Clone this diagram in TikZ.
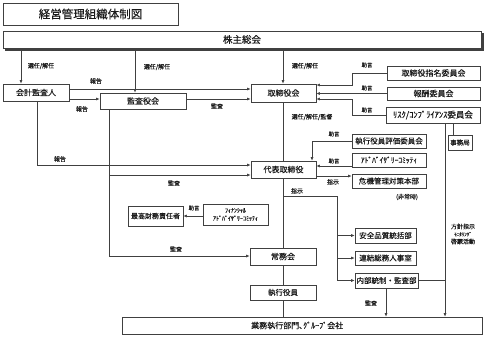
\documentclass[tikz,border=0pt]{standalone}
\usepackage{fontspec}
\setmainfont{Noto Sans CJK JP}[FakeBold=0.2]
\usetikzlibrary{arrows.meta}
\definecolor{linec}{HTML}{404040}
\definecolor{txtc}{HTML}{1A1A1A}
\newcommand{\myfs}[1]{\fontsize{#1}{#1}\selectfont}
\begin{document}
\begin{tikzpicture}[x=1pt,y=-1pt,
 bx/.style={draw=linec, line width=0.7pt, inner sep=0pt, text=txtc, font=\myfs{8}},
 ln/.style={draw=linec, line width=0.6pt},
 arr/.style={ln, -{Latex[length=3.5pt,width=3pt]}},
 lab/.style={inner sep=0pt, text=txtc, font=\fontsize{6}{7.5}\selectfont},
]
\fill[white] (0,0) rectangle (486,337);
\useasboundingbox (0,0) rectangle (486,337);

% boxes
\node[bx, minimum width=175pt, minimum height=22pt, font=\myfs{11.5}] (title) at (90.5,14) {経営管理組織体制図};
\fill[linec] (5,33) rectangle (483.5,50.5);
\node[bx, fill=white, minimum width=478pt, minimum height=17pt, font=\myfs{9.5}] (kabu) at (242,39.5) {株主総会};
\node[bx, minimum width=66pt, minimum height=17pt] (kaikei) at (36,92.5) {会計監査人};
\node[bx, minimum width=86pt, minimum height=16pt] (kansa) at (143,101) {監査役会};
\node[bx, minimum width=65pt, minimum height=18pt] (tori) at (283.5,93) {取締役会};
\node[bx, minimum width=93pt, minimum height=14pt] (shimei) at (433.5,73) {取締役指名委員会};
\node[bx, minimum width=93pt, minimum height=13pt] (hoshu) at (433.5,93.5) {報酬委員会};
\node[bx, minimum width=94pt, minimum height=16pt, font=\myfs{8.5}] (risk) at (433,115) {ﾘｽｸ/ｺﾝﾌﾟﾗｲｱﾝｽ委員会};
\node[bx, minimum width=24pt, minimum height=15pt, font=\myfs{6.5}] (jimu) at (460,142.5) {事務局};
\node[bx, minimum width=74pt, minimum height=14pt, font=\myfs{7.5}] (hyoka) at (389,141) {執行役員評価委員会};
\node[bx, minimum width=74pt, minimum height=14pt, font=\myfs{7.5}] (adv) at (389,160) {ｱﾄﾞﾊﾞｲｻﾞﾘｰｺﾐｯﾃｨ};
\node[bx, minimum width=74pt, minimum height=14pt, font=\myfs{7.5}] (kiki) at (389,181) {危機管理対策本部};
\node[bx, minimum width=65pt, minimum height=17pt] (daihyo) at (283.5,169.5) {代表取締役};
\node[bx, minimum width=55pt, minimum height=20pt, font=\myfs{7}] (cfo) at (155.5,216) {最高財務責任者};
\node[bx, minimum width=65pt, minimum height=21pt, font=\fontsize{6}{8}\selectfont, align=center] (fin) at (235.5,214.5) {ﾌｨﾅﾝｼｬﾙ\\ｱﾄﾞﾊﾞｲｻﾞﾘｰｺﾐｯﾃｨ};
\node[bx, minimum width=66pt, minimum height=17pt] (jomu) at (283,256.5) {常務会};
\node[bx, minimum width=66pt, minimum height=15pt, font=\myfs{7.5}] (shikko) at (283,292.5) {執行役員};
\node[bx, minimum width=61pt, minimum height=15pt, font=\myfs{7.5}] (anzen) at (385.5,235.5) {安全品質統括部};
\node[bx, minimum width=61pt, minimum height=14pt, font=\myfs{7.5}] (renketsu) at (385.5,258) {連結総務人事室};
\node[bx, minimum width=63pt, minimum height=15pt, font=\myfs{7.5}] (naibu) at (386.5,280.5) {内部統制・監査部};
\node[bx, minimum width=360pt, minimum height=17pt] (gyomu) at (302,325.5) {};
\node[inner sep=0pt, text=txtc, font=\myfs{8}, anchor=west] (gyomutxt) at (251,325.5) {業務執行部門､ｸﾞﾙｰﾌﾟ会社};

% helper coordinates
\coordinate (xA) at (21,0);
\coordinate (xB) at (135,0);
\coordinate (xM) at (283,0);
\coordinate (xK) at (37,0);
\coordinate (xS) at (109,0);
\coordinate (xJ) at (352,0);
\coordinate (xE) at (312,0);
\coordinate (xI) at (337,0);
\coordinate (xR) at (445,0);
\coordinate (xJm) at (453,0);
\coordinate (xN) at (386,0);
\coordinate (y85) at (0,85);
\coordinate (y89) at (0,89);
\coordinate (y99) at (0,99);
\coordinate (y165) at (0,165);
\coordinate (y166) at (0,166);
\coordinate (y175) at (0,175);
\coordinate (y176) at (0,176);
\coordinate (y196) at (0,196);
\coordinate (y256) at (0,256);

% connectors
\draw[arr] (kabu.south -| xA) -- (kaikei.north -| xA);
\draw[arr] (kabu.south -| xB) -- (kansa.north -| xB);
\draw[arr] (kabu.south -| xM) -- (tori.north -| xM);
\draw[arr] (kaikei.east |- y89) -- (tori.west |- y89);
\draw[arr] (kaikei.east |- y99) -- (kansa.west |- y99);
\draw[arr] (kansa.east |- y99) -- (tori.west |- y99);
\draw[arr] (kaikei.south -| xK) -- (xK |- y165) -- (daihyo.west |- y165);
\draw[arr] (kansa.south -| xS) -- (xS |- y256) -- (jomu.west |- y256);
\draw[arr] (xS |- y175) -- (daihyo.west |- y175);
\draw[ln] (tori.south -| xM) -- (daihyo.north -| xM);
\draw[ln] (daihyo.south -| xM) -- (jomu.north -| xM);
\draw[ln] (jomu.south -| xM) -- (shikko.north -| xM);
\draw[ln] (shikko.south -| xM) -- (gyomu.north -| xM);
\draw[arr] (shimei.west) -- (shimei.west -| xJ) -- (xJ |- y85) -- (tori.east |- y85);
\draw[arr] (hoshu.west) -- (tori.east |- hoshu.west);
\draw[arr] (risk.west) -- (risk.west -| xJ) -- (xJ |- y99) -- (tori.east |- y99);
\draw[ln] (risk.south -| xJm) -- (jimu.north -| xJm);
\draw[arr] (risk.south -| xR) -- (gyomu.north -| xR);
\draw[ln] (naibu.east) -- (naibu.east -| xR);
\draw[arr] (hyoka.west) -- (hyoka.west -| xE) -- (daihyo.north -| xE);
\draw[arr] (adv.west |- y166) -- (daihyo.east |- y166);
\draw[arr] (daihyo.east |- y176) -- (kiki.west |- y176);
\draw[ln] (xM |- y196) -- (xI |- y196) -- (xI |- naibu.west);
\draw[arr] (xI |- anzen.west) -- (anzen.west);
\draw[arr] (xI |- renketsu.west) -- (renketsu.west);
\draw[arr] (xI |- naibu.west) -- (naibu.west);
\draw[arr] (naibu.south -| xN) -- (gyomu.north -| xN);
\draw[arr] (fin.west |- cfo.east) -- (cfo.east);

% labels
\node[lab] (l1) at (41,66) {選任/解任};
\node[lab] (l2) at (157,67) {選任/解任};
\node[lab] (l3) at (305,66) {選任/解任};
\node[lab] (l4) at (96,81) {報告};
\node[lab] (l5) at (82,109) {報告};
\node[lab] (l6) at (217,106) {監査};
\node[lab] (l7) at (60,159) {報告};
\node[lab] (l8) at (174,183) {監査};
\node[lab] (l9) at (176,249) {監査};
\node[lab] (l10) at (312,117) {選任/解任/監督};
\node[lab, font=\myfs{5.5}] (l11) at (367,65) {助言};
\node[lab, font=\myfs{5.5}] (l12) at (367,88) {助言};
\node[lab, font=\myfs{5.5}] (l13) at (367,110) {助言};
\node[lab, font=\myfs{5.5}] (l14) at (334,134) {助言};
\node[lab, font=\myfs{5.5}] (l15) at (334,161) {助言};
\node[lab] (l16) at (333,182) {指示};
\node[lab] (l17) at (407,197) {(非常時)};
\node[lab] (l18) at (297,191) {指示};
\node[lab] (l19) at (371,303) {監査};
\node[lab, font=\myfs{5.5}] (l20) at (194,208) {助言};
\node[lab, align=center] (l21) at (463,234) {方針指示\\{\myfs{5}ﾓﾆﾀﾘﾝｸﾞ}\\啓蒙活動};
\end{tikzpicture}
\end{document}
